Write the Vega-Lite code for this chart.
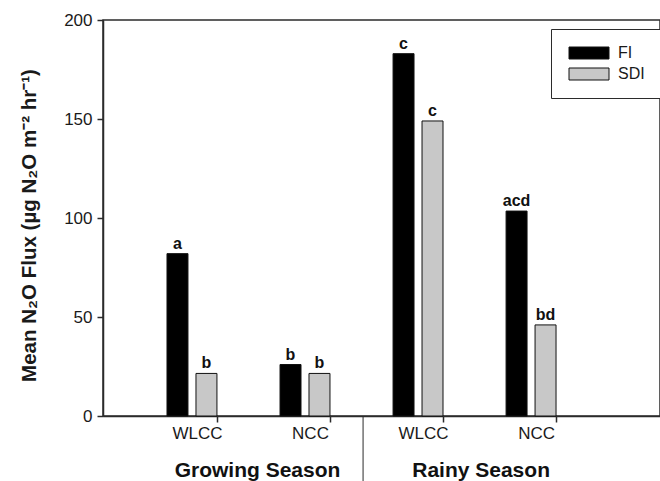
{
  "$schema": "https://vega.github.io/schema/vega-lite/v6.json",
  "width": 557,
  "height": 396,
  "autosize": {"type": "none"},
  "padding": {"left": 103, "top": 20, "right": 0, "bottom": 65},
  "config": {
    "font": "Liberation Sans",
    "view": {"stroke": "#2b2b2b", "strokeWidth": 1.5},
    "axis": {
      "grid": false,
      "domainColor": "#2b2b2b",
      "domainWidth": 1.5,
      "tickColor": "#2b2b2b",
      "tickWidth": 1.5,
      "labelColor": "#1a1a1a",
      "titleColor": "#1a1a1a",
      "labelFont": "Liberation Sans",
      "titleFont": "Liberation Sans"
    }
  },
  "data": {
    "values": [
      {"slot": "Growing|WLCC", "treatment": "FI", "flux": 82, "letter": "a"},
      {"slot": "Growing|WLCC", "treatment": "SDI", "flux": 21.5, "letter": "b"},
      {"slot": "Growing|NCC", "treatment": "FI", "flux": 26, "letter": "b"},
      {"slot": "Growing|NCC", "treatment": "SDI", "flux": 21.5, "letter": "b"},
      {"slot": "Rainy|WLCC", "treatment": "FI", "flux": 183, "letter": "c"},
      {"slot": "Rainy|WLCC", "treatment": "SDI", "flux": 149, "letter": "c"},
      {"slot": "Rainy|NCC", "treatment": "FI", "flux": 103.5, "letter": "acd"},
      {"slot": "Rainy|NCC", "treatment": "SDI", "flux": 46, "letter": "bd"}
    ]
  },
  "layer": [
    {
      "mark": {"type": "bar", "stroke": "#111111", "strokeWidth": 1},
      "encoding": {
        "x": {
          "field": "slot",
          "type": "nominal",
          "sort": null,
          "scale": {"paddingInner": 0.558, "paddingOuter": 0.743, "align": 0.381},
          "axis": {
            "title": null,
            "labelExpr": "split(datum.label, '|')[1]",
            "labelAngle": 0,
            "labelFontSize": 17,
            "tickSize": 6,
            "tickOffset": 25,
            "labelOffset": -20,
            "labelPadding": 3
          }
        },
        "xOffset": {
          "field": "treatment",
          "type": "nominal",
          "sort": ["FI", "SDI"],
          "scale": {"paddingInner": 0.276, "paddingOuter": 0}
        },
        "y": {
          "field": "flux",
          "type": "quantitative",
          "scale": {"domain": [0, 200]},
          "axis": {
            "title": "Mean N₂O Flux (µg N₂O m⁻² hr⁻¹)",
            "values": [0, 50, 100, 150, 200],
            "tickSize": 6,
            "labelPadding": 5,
            "labelFontSize": 17,
            "titleFontSize": 20.5,
            "titleFontWeight": "bold",
            "titlePadding": 24,
            "titleY": 205
          }
        },
        "color": {
          "field": "treatment",
          "type": "nominal",
          "scale": {"domain": ["FI", "SDI"], "range": ["#000000", "#c8c8c8"]},
          "legend": {
            "title": null,
            "orient": "none",
            "legendX": 448,
            "legendY": 9,
            "padding": 16,
            "strokeColor": "#2b2b2b",
            "fillColor": "#ffffff",
            "symbolType": "M-1,-1H5.667V1H-1Z",
            "symbolSize": 144,
            "symbolStrokeColor": "#111111",
            "symbolStrokeWidth": 1,
            "labelFontSize": 16,
            "labelColor": "#1a1a1a",
            "labelOffset": 35,
            "rowPadding": 5
          }
        }
      }
    },
    {
      "mark": {"type": "text", "fontSize": 16, "fontWeight": "bold", "baseline": "alphabetic", "dy": -5, "color": "#111111"},
      "encoding": {
        "x": {"field": "slot", "type": "nominal", "sort": null},
        "xOffset": {"field": "treatment", "type": "nominal", "sort": ["FI", "SDI"]},
        "y": {"field": "flux", "type": "quantitative", "scale": {"domain": [0, 200]}},
        "text": {"field": "letter"}
      }
    },
    {
      "data": {"values": [{"season": "Growing Season"}]},
      "mark": {"type": "text", "fontSize": 21, "fontWeight": "bold", "baseline": "alphabetic", "align": "center", "color": "#111111"},
      "encoding": {
        "x": {"datum": "Growing|NCC", "type": "nominal", "bandPosition": -0.45},
        "y": {"datum": -31, "type": "quantitative", "scale": {"domain": [0, 200]}},
        "text": {"field": "season"}
      }
    },
    {
      "data": {"values": [{"season": "Rainy Season"}]},
      "mark": {"type": "text", "fontSize": 21, "fontWeight": "bold", "baseline": "alphabetic", "align": "center", "color": "#111111"},
      "encoding": {
        "x": {"datum": "Rainy|NCC", "type": "nominal", "bandPosition": -0.5},
        "y": {"datum": -31, "type": "quantitative", "scale": {"domain": [0, 200]}},
        "text": {"field": "season"}
      }
    },
    {
      "data": {"values": [{"season": "Rainy Season"}]},
      "mark": {"type": "rule", "color": "#2b2b2b", "strokeWidth": 1},
      "encoding": {
        "x": {"datum": "Rainy|WLCC", "type": "nominal", "bandPosition": -0.6},
        "y": {"datum": 0, "type": "quantitative", "scale": {"domain": [0, 200]}},
        "y2": {"datum": -34}
      }
    }
  ]
}
